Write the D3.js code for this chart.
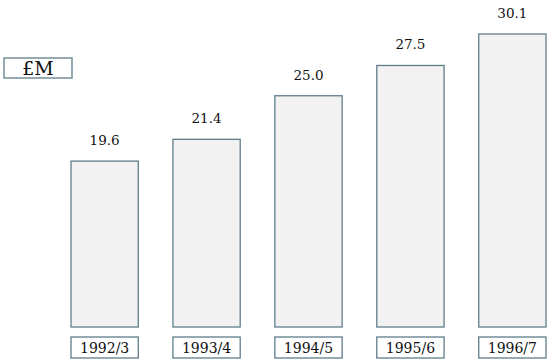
<!DOCTYPE html>
<html>
<head>
<meta charset="utf-8">
<script src="https://cdn.jsdelivr.net/npm/d3@7"></script>
<style>
  body { margin: 0; background: #fff; }
  svg { display: block; }
  text { font-family: "DejaVu Serif", "Liberation Serif", serif; fill: #111; }
</style>
</head>
<body>
<svg id="chart"></svg>
<script>
// 数据
const years = ["1992/3", "1993/4", "1994/5", "1995/6", "1996/7"];
const spend = [19.6, 21.4, 25.0, 27.5, 30.1];
const unitLabel = "£M";

const width = 550, height = 364;
const stroke = "#5f7d8c";

const svg = d3.select("#chart").attr("width", width).attr("height", height);

// 比例尺（y 轴不从 0 开始）
const x = d3.scaleBand().domain(years).range([71, 546]).paddingInner(0.34).paddingOuter(0);
const y = d3.scaleLinear().domain([5.9, 30.1]).range([327, 34]);

// 柱子
svg.selectAll("rect.bar")
  .data(years)
  .enter()
  .append("rect")
  .attr("class", "bar")
  .attr("x", (d) => x(d))
  .attr("y", (d, i) => y(spend[i]))
  .attr("width", x.bandwidth())
  .attr("height", (d, i) => y(5.9) - y(spend[i]))
  .attr("fill", "#f2f2f2")
  .attr("stroke", stroke)
  .attr("stroke-width", 1.3);

// 数值标签
svg.selectAll("text.value")
  .data(spend)
  .enter()
  .append("text")
  .attr("class", "value")
  .attr("x", (d, i) => x(years[i]) + x.bandwidth() / 2)
  .attr("y", (d) => y(d) - 16)
  .attr("text-anchor", "middle")
  .attr("font-size", 13.5)
  .text((d) => d.toFixed(1));

// 年份标签框
const cat = svg.selectAll("g.cat")
  .data(years)
  .enter()
  .append("g")
  .attr("class", "cat")
  .attr("transform", (d) => `translate(${x(d)},337)`);

cat.append("rect")
  .attr("width", x.bandwidth())
  .attr("height", 21)
  .attr("fill", "#fff")
  .attr("stroke", stroke)
  .attr("stroke-width", 1.3);

cat.append("text")
  .attr("x", x.bandwidth() / 2)
  .attr("y", 16)
  .attr("text-anchor", "middle")
  .attr("font-size", 14)
  .text((d) => d);

// 单位框
svg.append("rect")
  .attr("x", 4)
  .attr("y", 58)
  .attr("width", 68)
  .attr("height", 20)
  .attr("fill", "#fff")
  .attr("stroke", stroke)
  .attr("stroke-width", 1.3);

svg.append("text")
  .attr("x", 38)
  .attr("y", 75)
  .attr("text-anchor", "middle")
  .attr("font-size", 19)
  .text(unitLabel);
</script>
</body>
</html>
